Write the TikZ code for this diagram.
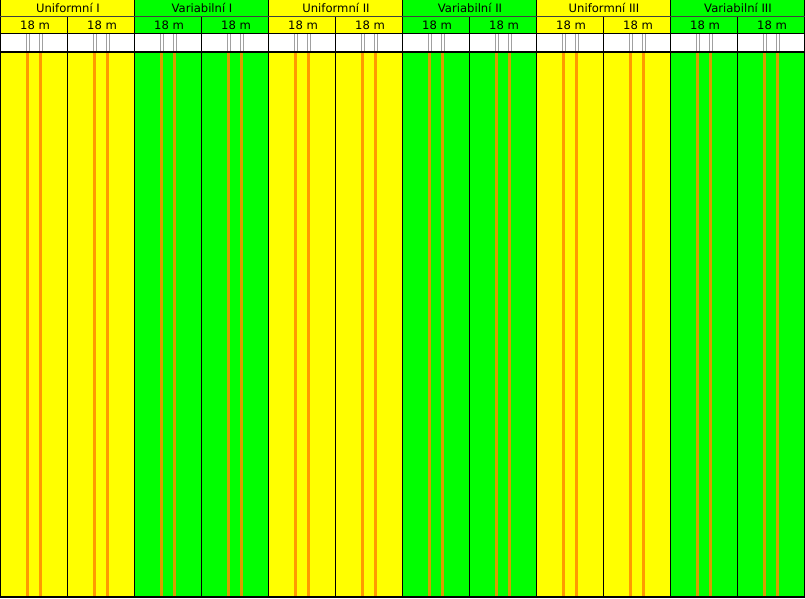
\documentclass[tikz,border=0pt]{standalone}
\usepackage{fontspec}
\setmainfont{DejaVu Sans}
\definecolor{yel}{RGB}{255,255,0}
\definecolor{grn}{RGB}{0,255,0}
\definecolor{strY}{RGB}{255,153,0}
\definecolor{strG}{RGB}{214,158,0}
\definecolor{gry}{RGB}{160,160,160}
\tikzset{
  hdr/.style={inner sep=0pt, font=\fontsize{11.6}{13}\selectfont, text=black},
  gridline/.style={draw=black, line width=1pt},
  softline/.style={draw=black!75, line width=0.9pt},
  thickline/.style={draw=black, line width=2pt},
  stripeout/.style={draw=gry, line width=0.9pt},
}
\begin{document}
\begin{tikzpicture}[x=1pt,y=-1pt]
\useasboundingbox (0,0) rectangle (805,598);
\foreach \i in {0,...,11} {
  \pgfmathtruncatemacro\g{int(\i/2)}
  \pgfmathsetmacro\L{1+67*\i}
  \ifodd\g \def\cc{grn}\def\sc{strG}\else \def\cc{yel}\def\sc{strY}\fi
  \fill[\cc] (\L,0) rectangle ++(67,34);
  \fill[white] (\L,34) rectangle ++(67,17);
  \fill[\cc] (\L,53) rectangle ++(67,543);
  \fill[\sc] (\L+25,53) rectangle ++(3,543);
  \fill[\sc] (\L+38,53) rectangle ++(3,543);
  \draw[stripeout] (\L+25.8,34) -- ++(0,17) (\L+28.2,34) -- ++(0,17);
  \draw[stripeout] (\L+38.8,34) -- ++(0,17) (\L+41.2,34) -- ++(0,17);
  \node[hdr] (m\i) at (\L+34,25) {18 m};
}
\node[hdr] (t0) at (68,8) {Uniformní I};
\node[hdr] (t1) at (202,8) {Variabilní I};
\node[hdr] (t2) at (336,8) {Uniformní II};
\node[hdr] (t3) at (470,8) {Variabilní II};
\node[hdr] (t4) at (604,8) {Uniformní III};
\node[hdr] (t5) at (738,8) {Variabilní III};
% vertical grid lines
\foreach \i in {0,2,...,12} {
  \pgfmathsetmacro\X{ifthenelse(\i==0,0.5,ifthenelse(\i==12,804.5,1+67*\i-0.5))}
  \draw[gridline] (\X,0) -- (\X,598);
}
\foreach \i in {1,3,...,11} {
  \pgfmathsetmacro\X{1+67*\i-0.5}
  \draw[gridline] (\X,16.5) -- (\X,598);
}
% horizontal lines
\draw[softline] (0,16.5) -- (805,16.5);
\draw[gridline] (0,33.8) -- (805,33.8);
\draw[thickline] (0,52) -- (805,52);
\draw[thickline] (0,597) -- (805,597);
\end{tikzpicture}
\end{document}
